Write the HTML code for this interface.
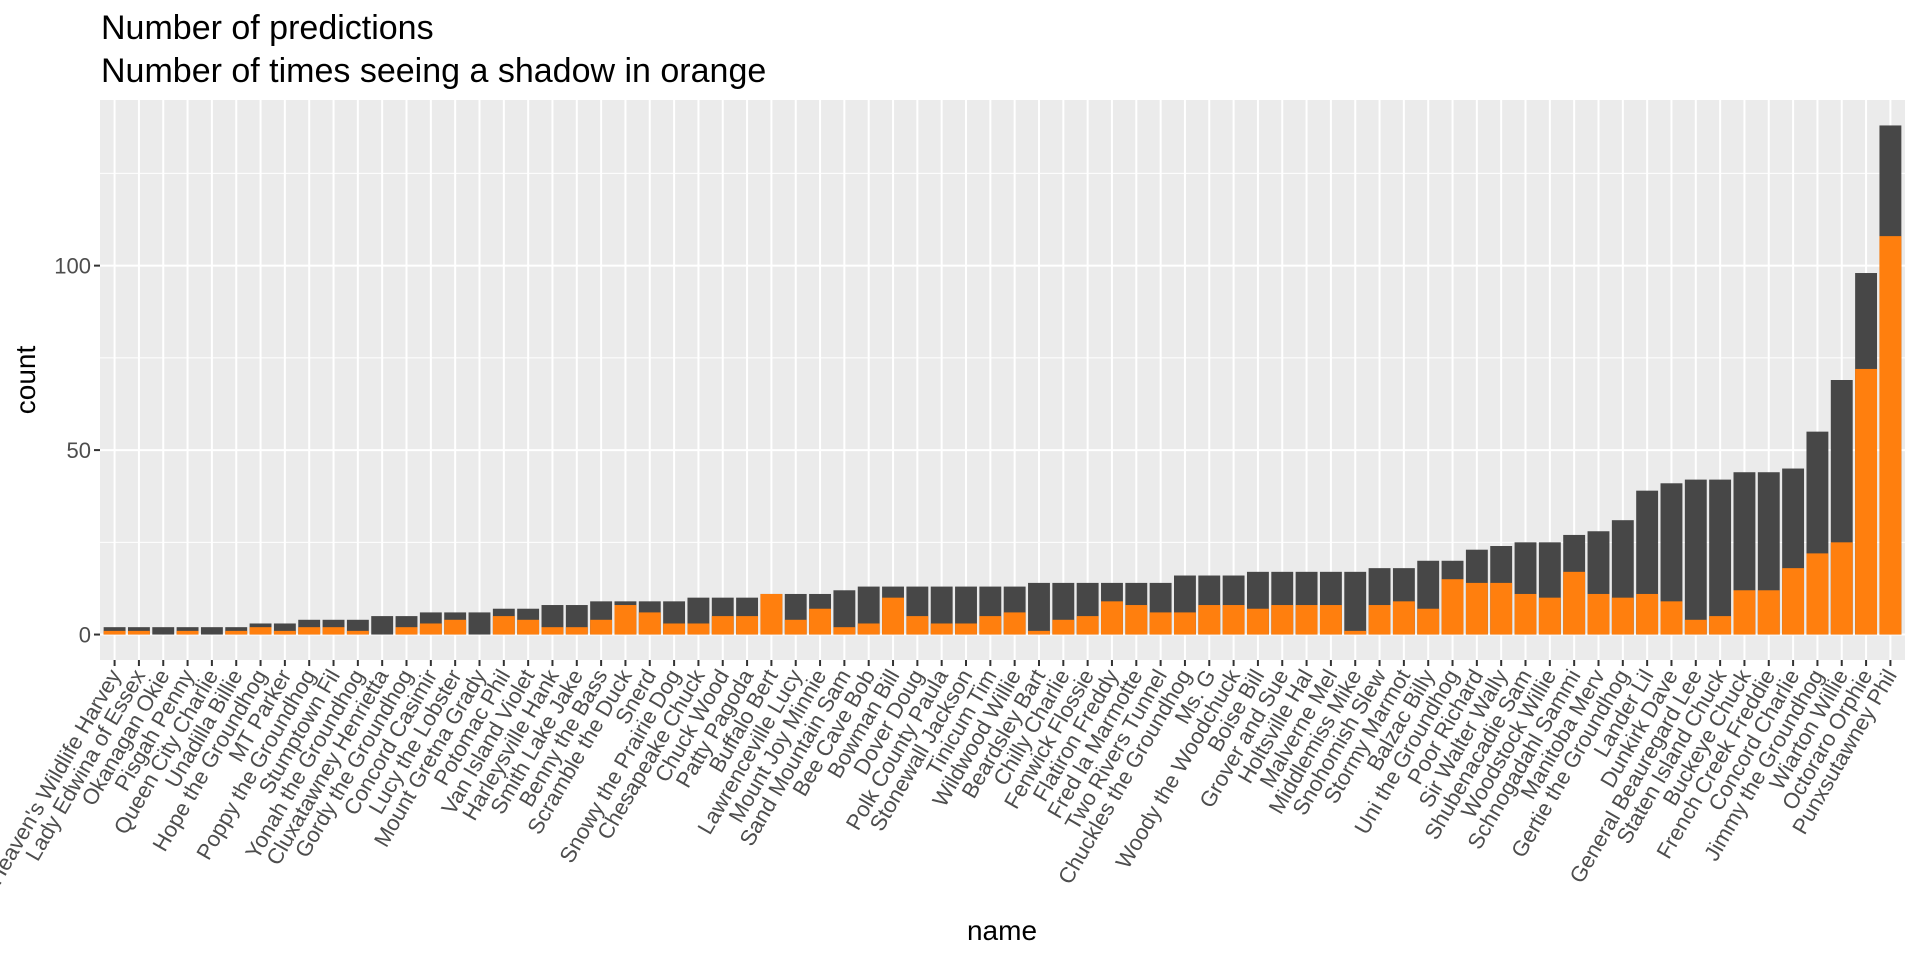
<!DOCTYPE html>
<html><head><meta charset="utf-8"><style>
html,body{margin:0;padding:0;background:#fff;}
svg{display:block;font-family:"Liberation Sans",Arial,sans-serif;}
</style></head><body>
<svg id="chart" width="1920" height="960" viewBox="0 0 1920 960" xmlns="http://www.w3.org/2000/svg">
<text x="101" y="39" font-size="34" fill="#000">Number of predictions</text>
<text x="101" y="82" font-size="34" fill="#000">Number of times seeing a shadow in orange</text>
<rect x="100" y="100" width="1805" height="560" fill="#EBEBEB"/>
<g id="grid"></g><g id="bars"></g><g id="axes"></g>
<text transform="translate(35,380) rotate(-90)" text-anchor="middle" font-size="28" fill="#000">count</text>
<text x="1002" y="940" text-anchor="middle" font-size="28" fill="#000">name</text>
</svg>
<script>
const names = ["Heaven's Wildlife Harvey","Lady Edwina of Essex","Okanagan Okie","Pisgah Penny","Queen City Charlie","Unadilla Billie","Hope the Groundhog","MT Parker","Poppy the Groundhog","Stumptown Fil","Yonah the Groundhog","Cluxatawney Henrietta","Gordy the Groundhog","Concord Casimir","Lucy the Lobster","Mount Gretna Grady","Potomac Phil","Van Island Violet","Harleysville Hank","Smith Lake Jake","Benny the Bass","Scramble the Duck","Snerd","Snowy the Prairie Dog","Chesapeake Chuck","Chuck Wood","Patty Pagoda","Buffalo Bert","Lawrenceville Lucy","Mount Joy Minnie","Sand Mountain Sam","Bee Cave Bob","Bowman Bill","Dover Doug","Polk County Paula","Stonewall Jackson","Tinicum Tim","Wildwood Willie","Beardsley Bart","Chilly Charlie","Fenwick Flossie","Flatiron Freddy","Fred la Marmotte","Two Rivers Tunnel","Chuckles the Groundhog","Ms. G","Woody the Woodchuck","Boise Bill","Grover and Sue","Holtsville Hal","Malverne Mel","Middlemiss Mike","Snohomish Slew","Stormy Marmot","Balzac Billy","Uni the Groundhog","Poor Richard","Sir Walter Wally","Shubenacadie Sam","Woodstock Willie","Schnogadahl Sammi","Manitoba Merv","Gertie the Groundhog","Lander Lil","Dunkirk Dave","General Beauregard Lee","Staten Island Chuck","Buckeye Chuck","French Creek Freddie","Concord Charlie","Jimmy the Groundhog","Wiarton Willie","Octoraro Orphie","Punxsutawney Phil"];
const totals = [2,2,2,2,2,2,3,3,4,4,4,5,5,6,6,6,7,7,8,8,9,9,9,9,10,10,10,11,11,11,12,13,13,13,13,13,13,13,14,14,14,14,14,14,16,16,16,17,17,17,17,17,18,18,20,20,23,24,25,25,27,28,31,39,41,42,42,44,44,45,55,69,98,138];
const shadows = [1,1,0,1,0,1,2,1,2,2,1,0,2,3,4,0,5,4,2,2,4,8,6,3,3,5,5,11,4,7,2,3,10,5,3,3,5,6,1,4,5,9,8,6,6,8,8,7,8,8,8,1,8,9,7,15,14,14,11,10,17,11,10,11,9,4,5,12,12,18,22,25,72,108];
const yTicks = [0,50,100];
const yMinor = [25,75,125];
const yTickLabels = ["0","50","100"];

const NS="http://www.w3.org/2000/svg";
const L=100,R=1905,T=100,B=660;
const ymin=-6.9,ymax=144.9;
function y(v){return B-(v-ymin)/(ymax-ymin)*(B-T);}
const step=(R-L)/(names.length-1+1.2);
function x(i){return L+(0.6+i)*step;}
const bw=step*0.9;
function mk(tag,attrs,parent){const e=document.createElementNS(NS,tag);for(const k in attrs)e.setAttribute(k,attrs[k]);parent.appendChild(e);return e;}
const grid=document.getElementById('grid'),bars=document.getElementById('bars'),axes=document.getElementById('axes');
yMinor.forEach(v=>{const l=mk('line',{x1:L,x2:R,y1:y(v),y2:y(v),stroke:'#fff','stroke-width':1},grid);

});
yTicks.forEach((v,k)=>{const l=mk('line',{x1:L,x2:R,y1:y(v),y2:y(v),stroke:'#fff','stroke-width':2},grid);


const t=mk('line',{x1:L-6,x2:L,y1:y(v),y2:y(v),stroke:'#333','stroke-width':2},axes);


const tx=mk('text',{x:L-9,y:y(v)+8,'text-anchor':'end','font-size':22,fill:'#4D4D4D'},axes);


tx.textContent=yTickLabels[k];});
names.forEach((n,i)=>{const cx=x(i);
const g=mk('line',{x1:cx,x2:cx,y1:T,y2:B,stroke:'#fff','stroke-width':2},grid);


const tb=mk('rect',{x:cx-bw/2,y:y(totals[i]),width:bw,height:y(0)-y(totals[i]),fill:'#474747'},bars);


const ob=mk('rect',{x:cx-bw/2,y:y(shadows[i]),width:bw,height:y(0)-y(shadows[i]),fill:'#FF7F0E'},bars);


const tk=mk('line',{x1:cx,x2:cx,y1:B,y2:B+6,stroke:'#333','stroke-width':2},axes);


const tl=mk('text',{transform:`translate(${cx+7},${B+15}) rotate(-60)`,'text-anchor':'end','font-size':22,fill:'#4D4D4D'},axes);


tl.textContent=n;});
</script>
</body></html>
